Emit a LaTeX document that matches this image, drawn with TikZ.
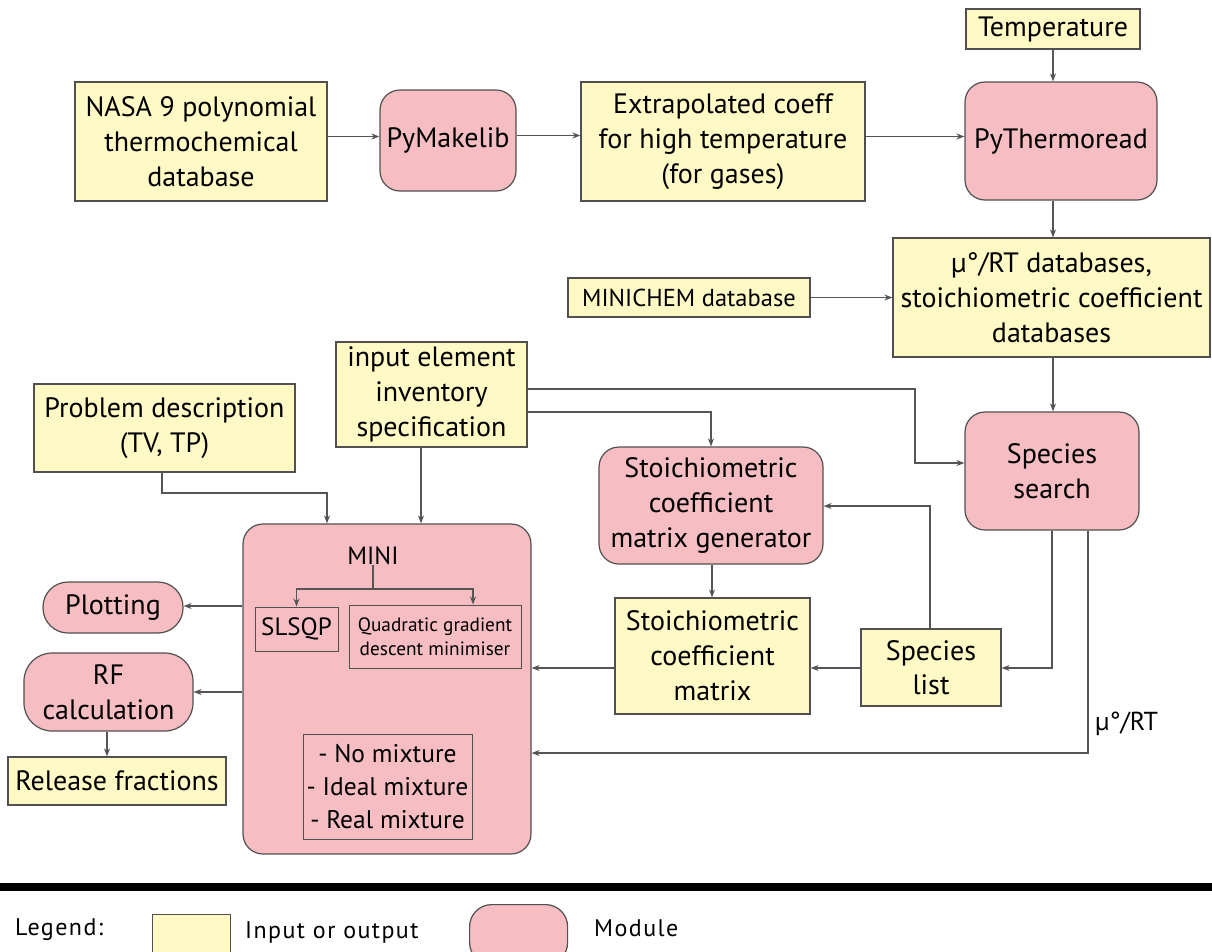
\documentclass[tikz,border=0pt]{standalone}
\usepackage{fontspec}
\setmainfont{PT Sans}
\newfontfamily\legfont[LetterSpace=6]{PT Sans}
\usetikzlibrary{arrows.meta,calc}
\definecolor{ioyel}{RGB}{255,250,197}
\definecolor{modpink}{RGB}{246,190,194}
\definecolor{edgec}{RGB}{80,80,80}
\definecolor{linec}{RGB}{85,85,85}
\tikzset{
  box/.style={draw=edgec, line width=1.2pt, inner sep=0pt, align=center, text=black,
              font=\fontsize{28}{35}\selectfont},
  io/.style={box, fill=ioyel},
  mod/.style={box, fill=modpink, rounded corners=20pt},
  inner/.style={draw=edgec, line width=1pt, inner sep=0pt, align=center, text=black},
  arr/.style={draw=linec, line width=1.2pt, -{Stealth[length=8pt,width=6pt]}},
  ln/.style={draw=linec, line width=1.2pt},
}
\begin{document}
\begin{tikzpicture}[x=1pt,y=-1pt]
\useasboundingbox (0,0) rectangle (1212,951);

% top row
\node[io, minimum width=174pt, minimum height=40pt, font=\fontsize{28}{32}\selectfont] (temp) at (1053,29) {Temperature};
\node[io, minimum width=252pt, minimum height=119pt] (nasa) at (201,141.5) {NASA 9 polynomial\\thermochemical\\database};
\node[mod, minimum width=136pt, minimum height=101pt] (pymake) at (448,140.5) {PyMakelib};
\node[io, minimum width=284pt, minimum height=119pt] (extrap) at (723,141.5) {Extrapolated coeff\\for high temperature\\(for gases)};
\node[mod, minimum width=192pt, minimum height=118pt] (pythermo) at (1061,141) {PyThermoread};

% second row
\node[io, minimum width=242pt, minimum height=39pt, font=\fontsize{24.5}{28}\selectfont] (minichem) at (689,297.5) {MINICHEM database};
\node[io, minimum width=317pt, minimum height=119pt] (mu) at (1051.5,297.5) {µ°/RT databases,\\stoichiometric coefficient\\databases};

% third row
\node[io, minimum width=191pt, minimum height=105pt] (input) at (431.5,394.5) {input element\\inventory\\specification};
\node[io, minimum width=261pt, minimum height=88pt] (problem) at (164.5,428) {Problem description\\(TV, TP)};
\node[mod, minimum width=174pt, minimum height=118pt] (search) at (1052,471) {Species\\search};
\node[mod, minimum width=224pt, minimum height=117pt] (stoichgen) at (711,505.5) {Stoichiometric\\coefficient\\matrix generator};
\node[io, minimum width=195pt, minimum height=116pt] (stoichmat) at (712.5,656) {Stoichiometric\\coefficient\\matrix};
\node[io, minimum width=140pt, minimum height=77pt, font=\fontsize{28}{34}\selectfont] (species) at (931,667.5) {Species\\list};

% MINI
\node[mod, minimum width=288pt, minimum height=330pt] (mini) at (387,689) {};
\node[inner sep=0pt, font=\fontsize{25}{28}\selectfont] (minilabel) at (373,556) {MINI};
\node[inner, minimum width=83pt, minimum height=44pt, font=\fontsize{25}{28}\selectfont] (slsqp) at (296.5,629) {SLSQP};
\node[inner, minimum width=172pt, minimum height=63pt, font=\fontsize{19.3}{24}\selectfont] (quad) at (435,636.5) {Quadratic gradient\\descent minimiser};
\node[inner, minimum width=169pt, minimum height=105pt, font=\fontsize{25.5}{33}\selectfont] (mixture) at (387.5,786.5) {- No mixture\\- Ideal mixture\\- Real mixture};

% left outputs
\node[box, fill=modpink, rounded corners=25pt, minimum width=140pt, minimum height=51pt] (plotting) at (113,607.5) {Plotting};
\node[box, fill=modpink, rounded corners=28pt, minimum width=169pt, minimum height=78pt] (rf) at (108.5,692) {RF\\calculation};
\node[io, minimum width=218pt, minimum height=48pt] (release) at (117,781) {Release fractions};

% connectors top row
\draw[arr] ([yshift=5pt]nasa.east) -- ([yshift=5pt]nasa.east -| pymake.west);
\draw[arr] ([yshift=5pt]pymake.east) -- ([yshift=5pt]pymake.east -| extrap.west);
\draw[arr] ([yshift=5pt]extrap.east) -- ([yshift=5pt]extrap.east -| pythermo.west);
\draw[arr] (temp.south) -- (temp.south |- pythermo.north);
\draw[arr] (temp.south |- pythermo.south) -- (temp.south |- mu.north);
\draw[arr] (minichem.east) -- (minichem.east -| mu.west);
\draw[arr] (temp.south |- mu.south) -- (temp.south |- search.north);

% input element connectors
\coordinate (inup) at (527,389);
\coordinate (inlow) at (527,412);
\draw[arr] (inup) -- (915,389) -- (915,463) -- (915,463 -| search.west);
\draw[arr] (inlow) -- (inlow -| stoichgen.north) -- (stoichgen.north);
\draw[arr] (input.south -| 421,0) -- (mini.north -| 421,0);
\draw[arr] (problem.south -| 162,0) -- (162,493) -- (327,493) -- (mini.north -| 327,0);

% middle connectors
\draw[arr] ([xshift=1pt]stoichgen.south) -- ([xshift=1pt]stoichgen.south |- stoichmat.north);
\draw[arr] (species.north -| 930,0) -- (930,506) -- (930,506 -| stoichgen.east);
\draw[arr] (search.south) -- (search.south |- 0,668) -- (species.east |- 0,668);
\draw[arr] (species.west |- 0,668) -- (stoichmat.east |- 0,668);
\draw[arr] (stoichmat.west |- 0,668) -- (mini.east |- 0,668);
\draw[arr] (search.south -| 1088,0) -- (1088,753) -- (mini.east |- 0,753);
\node[anchor=west, inner sep=0pt, font=\fontsize{26}{30}\selectfont] (mulabel) at (1095,724) {µ°/RT};

% MINI outputs
\draw[arr] (mini.west |- 0,606) -- (plotting.east |- 0,606);
\draw[arr] (mini.west |- 0,692) -- (rf.east |- 0,692);
\draw[arr] (rf.south -| 107,0) -- (release.north -| 107,0);

% MINI branch
\coordinate (branch) at (373,589);
\draw[ln] (minilabel.south) -- (branch);
\draw[arr] (branch) -| (slsqp.north);
\draw[arr] (branch) -| ([xshift=38pt]quad.north);

% separator bar
\fill[black] (0,883) rectangle (1212,891);

% legend
\node[anchor=west, inner sep=0pt, font=\legfont\fontsize{24}{28}\selectfont] (legendlbl) at (15,930) {Legend:};
\node[io, minimum width=78pt, minimum height=50pt, anchor=north west] (legio) at (152,914) {};
\node[anchor=west, inner sep=0pt, font=\legfont\fontsize{24}{28}\selectfont] (legiotxt) at (245,932) {Input or output};
\node[mod, rounded corners=22pt, minimum width=98pt, minimum height=60pt, anchor=north west] (legmod) at (469,904) {};
\node[anchor=west, inner sep=0pt, font=\legfont\fontsize{24}{28}\selectfont] (legmodtxt) at (594,928) {Module};
\end{tikzpicture}
\end{document}
